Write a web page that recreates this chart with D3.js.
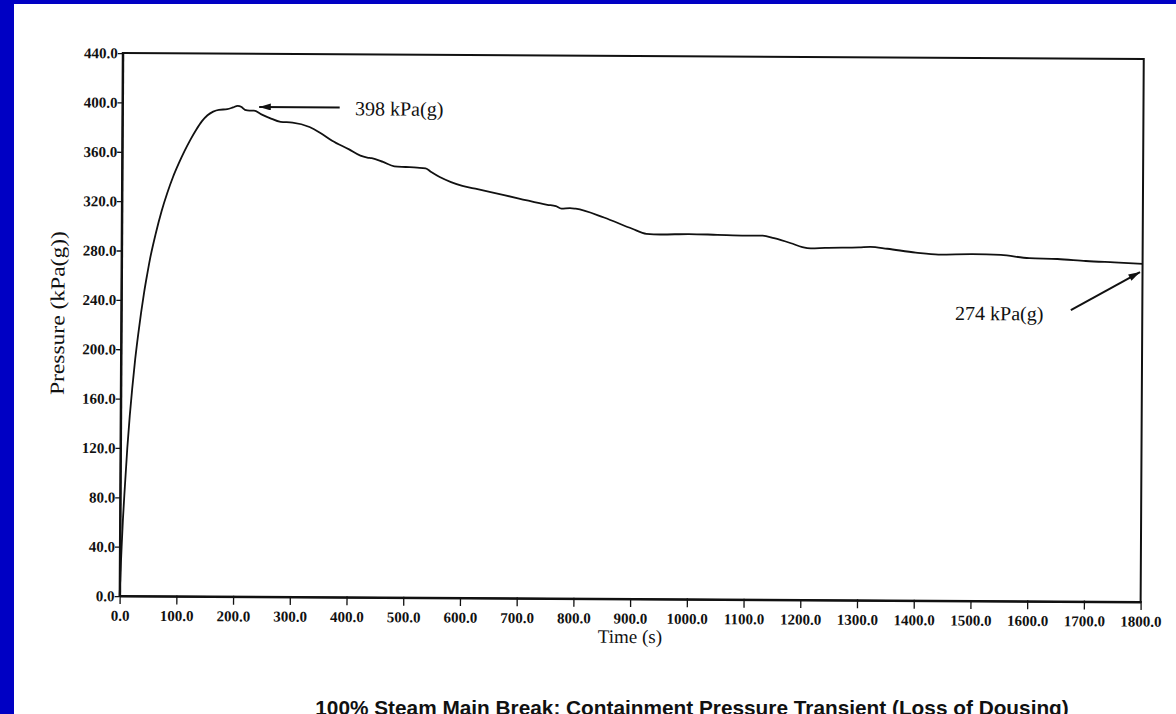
<!DOCTYPE html>
<html><head><meta charset="utf-8">
<script src="https://cdn.jsdelivr.net/npm/d3@7"></script>
<style>
html,body{margin:0;padding:0;background:#0000c4;}
svg{display:block;}
</style></head>
<body>
<svg id="chart" width="1176" height="714"></svg>
<script>
// ---- data ----
const timeS = [0,1,2,3,5,8,12,16,20,25,30,35,40,45,50,60,70,80,90,100,110,120,130,140,150,160,170,185,195,203,210,216,224,232,245,260,279,300,330,350,370,400,420,432,440,460,480,500,520,535,545,560,580,600,620,650,700,750,765,775,790,800,850,900,925,950,1000,1050,1100,1130,1150,1180,1200,1215,1240,1300,1320,1350,1400,1440,1500,1550,1600,1650,1700,1750,1800];
const pressure = [0,14,28,40,62,88,120,146,168,192,212,230,246,260,273,294,312,327,340,351,361,370,378,385,390,393,394.5,395,396.5,397.8,396.8,394.6,394,394,391,388,385,384.5,381,376,370,363,358,356.5,356,353,349.5,349,348.5,348,345,341,337,334,332,329,324,319,318,316,316.5,316,309,300,296,295.5,296,295.5,295,295,293,289,286,285,285.5,286,286.5,285,282,280.5,281,280.5,278,277.5,276,275,274];
const xTicks = [0,100,200,300,400,500,600,700,800,900,1000,1100,1200,1300,1400,1500,1600,1700,1800];
const yTicks = [0,40,80,120,160,200,240,280,320,360,400,440];
const xLabel = "Time (s)";
const yLabel = "Pressure (kPa(g))";
const title = "100% Steam Main Break:  Containment Pressure Transient (Loss of Dousing)";
const peakNote = {text:"398 kPa(g)", tx:410, ty:390.6, a0:[383,397], a1:[241,397]};
const endNote  = {text:"274 kPa(g)", tx:1470, ty:227.6, a0:[1674,236.2], a1:[1795.6,267.3]};

// ---- drawing ----
const svg = d3.select("#chart");
svg.append("rect").attr("x",14).attr("y",4).attr("width",1162).attr("height",710).attr("fill","#fff");

const x = d3.scaleLinear().domain([0,1800]).range([121.2,1142.2]);
const y = d3.scaleLinear().domain([0,440]).range([599,56]);

const g = svg.append("g").attr("transform","rotate(0.33,631.7,327.5)");

// frame
g.append("rect").attr("x",x(0)).attr("y",y(440)).attr("width",x(1800)-x(0)).attr("height",y(0)-y(440))
 .attr("fill","none").attr("stroke","#111").attr("stroke-width",2);

const serif = "'Liberation Serif','Times New Roman',serif";

const xAxis = g.append("g").attr("transform",`translate(0,${y(0)})`)
  .call(d3.axisBottom(x).tickValues(xTicks).tickSize(8).tickSizeOuter(0).tickPadding(6).tickFormat(d=>d.toFixed(1)));
const yAxis = g.append("g").attr("transform",`translate(${x(0)},0)`)
  .call(d3.axisLeft(y).tickValues(yTicks).tickSize(5).tickSizeOuter(0).tickPadding(0).tickFormat(d=>d.toFixed(1)));
[xAxis,yAxis].forEach(a=>{
  a.select(".domain").attr("stroke","#111").attr("stroke-width",2);
  a.selectAll(".tick line").attr("stroke","#111").attr("stroke-width",1.3);
  a.selectAll("text").attr("fill","#111").style("font-family",serif).style("font-size","15px").style("font-weight","bold");
});
xAxis.selectAll(".tick line").attr("y1",-1);

// curve
g.append("path").datum(timeS.map((t,i)=>[t,pressure[i]]))
 .attr("fill","none").attr("stroke","#111").attr("stroke-width",1.8).attr("stroke-linejoin","round")
 .attr("d", d3.line().x(d=>x(d[0])).y(d=>y(d[1])).curve(d3.curveMonotoneX));

// axis labels
g.append("text").attr("x",(x(0)+x(1800))/2).attr("y",y(0)+44).attr("text-anchor","middle")
 .style("font-family",serif).style("font-size","19px").attr("fill","#111").text(xLabel);
g.append("text").attr("transform",`translate(${x(0)-57},${y(229)}) rotate(-90)`).attr("text-anchor","middle")
 .attr("textLength",164).attr("lengthAdjust","spacingAndGlyphs")
 .style("font-family",serif).style("font-size","20px").attr("fill","#111").text(yLabel);

// annotations
svg.append("defs").append("marker").attr("id","ah").attr("viewBox","0 0 10 6").attr("refX",10).attr("refY",3)
 .attr("markerWidth",14).attr("markerHeight",7).attr("markerUnits","userSpaceOnUse").attr("orient","auto")
 .append("path").attr("d","M0,0L10,3L0,6Z").attr("fill","#111");
[peakNote,endNote].forEach(n=>{
  g.append("line").attr("x1",x(n.a0[0])).attr("y1",y(n.a0[1])).attr("x2",x(n.a1[0])).attr("y2",y(n.a1[1]))
   .attr("stroke","#111").attr("stroke-width",2).attr("marker-end","url(#ah)");
  g.append("text").attr("x",x(n.tx)).attr("y",y(n.ty)).style("font-family",serif).style("font-size","20px")
   .attr("fill","#111").text(n.text);
});

// title
svg.append("text").attr("x",692).attr("y",715).attr("text-anchor","middle")
 .style("font-family","'Liberation Sans',Arial,sans-serif").style("font-size","20.8px").style("font-weight","bold")
 .attr("fill","#111").text(title);
</script>
</body></html>
